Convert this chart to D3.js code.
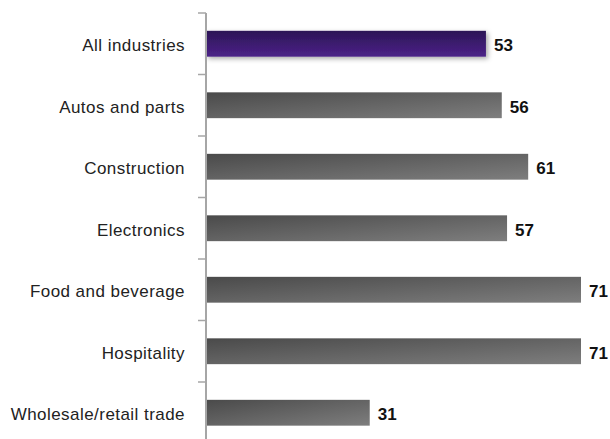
<!DOCTYPE html>
<html>
<head>
<meta charset="utf-8">
<script src="https://cdn.jsdelivr.net/npm/d3@7"></script>
<style>
  html, body { margin: 0; padding: 0; background: #fff; }
  svg { display: block; font-family: "Liberation Sans", Arial, sans-serif; }
</style>
</head>
<body>
<svg id="chart" width="610" height="439"></svg>
<script>
// Share of respondents by industry
const categories = [
  "All industries",
  "Autos and parts",
  "Construction",
  "Electronics",
  "Food and beverage",
  "Hospitality",
  "Wholesale/retail trade"
];
const values = [53, 56, 61, 57, 71, 71, 31];
const highlight = ["All industries"];

const svg = d3.select("#chart");
const axisX = 206;

const y = d3.scaleBand()
  .domain(categories)
  .range([13, 443.5])
  .paddingInner(0)
  .paddingOuter(0);

const x = d3.scaleLinear()
  .domain([0, 71])
  .range([axisX, 581]);

const defs = svg.append("defs");

const grey = defs.append("linearGradient")
  .attr("id", "greyFill")
  .attr("x1", 0).attr("y1", 0).attr("x2", 1).attr("y2", 1);
grey.append("stop").attr("offset", "0%").attr("stop-color", "#4a4a4a");
grey.append("stop").attr("offset", "100%").attr("stop-color", "#7e7e7e");

const purple = defs.append("linearGradient")
  .attr("id", "purpleFill")
  .attr("x1", 0).attr("y1", 0).attr("x2", 0).attr("y2", 1);
purple.append("stop").attr("offset", "0%").attr("stop-color", "#2c1556");
purple.append("stop").attr("offset", "100%").attr("stop-color", "#4c2288");

const shadow = defs.append("filter")
  .attr("id", "barShadow")
  .attr("x", "-10%").attr("y", "-40%")
  .attr("width", "130%").attr("height", "200%");
shadow.append("feDropShadow")
  .attr("dx", 2).attr("dy", 2)
  .attr("stdDeviation", 2.5)
  .attr("flood-color", "#000")
  .attr("flood-opacity", 0.35);

const barH = y.bandwidth() * 0.42;

// bars
svg.append("g")
  .selectAll("rect")
  .data(categories)
  .join("rect")
  .attr("x", axisX)
  .attr("y", d => y(d) + (y.bandwidth() - barH) / 2)
  .attr("width", (d, i) => x(values[i]) - axisX)
  .attr("height", barH)
  .attr("fill", d => highlight.includes(d) ? "url(#purpleFill)" : "url(#greyFill)")
  .attr("filter", d => highlight.includes(d) ? "url(#barShadow)" : null);

// value labels
svg.append("g")
  .selectAll("text")
  .data(categories)
  .join("text")
  .attr("x", (d, i) => x(values[i]) + 8)
  .attr("y", d => y(d) + y.bandwidth() / 2)
  .attr("dy", "0.44em")
  .attr("font-size", 17)
  .attr("font-weight", "bold")
  .attr("fill", "#111")
  .text((d, i) => values[i]);

// category axis: line plus ticks at band boundaries
const axis = svg.append("g");
axis.append("line")
  .attr("x1", axisX).attr("x2", axisX)
  .attr("y1", y.range()[0]).attr("y2", 439)
  .attr("stroke", "#a6a6a6")
  .attr("stroke-width", 2);

const bounds = categories.map(c => y(c)).concat([y.range()[1]]);
axis.selectAll("line.tick")
  .data(bounds)
  .join("line")
  .attr("class", "tick")
  .attr("x1", axisX - 8).attr("x2", axisX)
  .attr("y1", d => d).attr("y2", d => d)
  .attr("stroke", "#a6a6a6")
  .attr("stroke-width", 1.5);

axis.selectAll("text")
  .data(categories)
  .join("text")
  .attr("x", 185)
  .attr("y", d => y(d) + y.bandwidth() / 2)
  .attr("dy", "0.44em")
  .attr("text-anchor", "end")
  .attr("font-size", 17)
  .attr("letter-spacing", 0.45)
  .attr("fill", "#222")
  .text(d => d);
</script>
</body>
</html>
